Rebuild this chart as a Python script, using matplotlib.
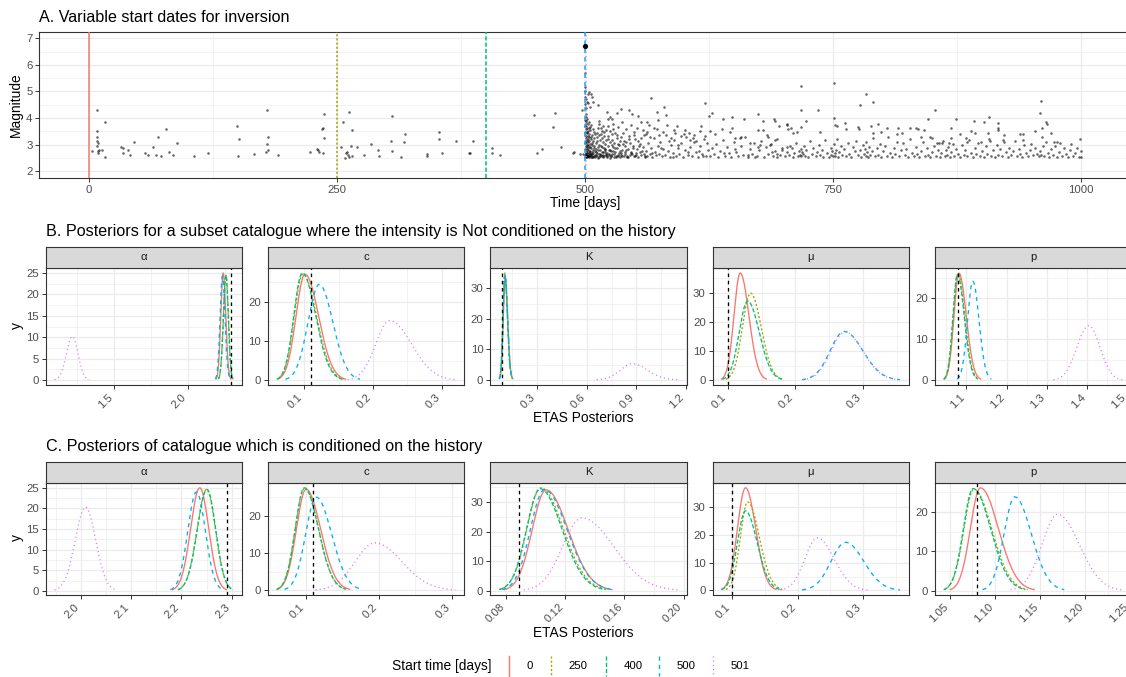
import numpy as np
import matplotlib.pyplot as plt

W, H = 1126, 677
plt.rcParams["font.family"] = ["Liberation Sans", "DejaVu Sans"]

# start times used for the inversions
start_days = [0, 250, 400, 500, 501]
start_names = ["0", "250", "400", "500", "501"]
start_colors = ["#F8766D", "#A3A500", "#00BF7D", "#00B0F6", "#E76BF3"]
start_dashes = [None, (1.5, 1.5), (3.0, 1.5), (3.0, 3.0), (0.75, 2.25)]

# synthetic catalogue (time [days], magnitude)
mainshock = (500.0, 6.7)
quakes_before = [
    (2.7, 2.75), (7.7, 4.30), (16.1, 3.86), (7.7, 3.52), (8.4, 3.29), (8.4, 3.13), (9.4, 3.04),
    (7.7, 2.94), (9.4, 2.75), (10.4, 2.79), (12.8, 2.79), (9.4, 2.67), (16.1, 2.52), (31.9, 2.89),
    (34.6, 2.85), (33.9, 2.69), (39.7, 2.79), (41.3, 2.60), (45.4, 3.09), (56.4, 2.69), (59.1, 2.60),
    (64.2, 2.92), (67.2, 2.59), (69.2, 3.27), (72.6, 2.55), (77.6, 3.57), (80.6, 2.72), (84.3, 2.62),
    (89.0, 3.04), (105.5, 2.55), (120.3, 2.68), (149.2, 3.70), (151.6, 3.19), (150.5, 2.55),
    (166.3, 2.64), (179.7, 4.29), (180.4, 3.27), (179.7, 3.03), (180.8, 2.78), (178.4, 2.70),
    (190.9, 2.60), (222.8, 2.70), (229.5, 2.84), (231.2, 2.79), (232.2, 2.70), (236.2, 2.68),
    (236.9, 4.15), (235.5, 3.62), (234.9, 3.60), (237.2, 3.23),
    (253.7, 2.89), (255.7, 3.83), (262.4, 4.21), (264.8, 3.55), (263.8, 2.94), (269.8, 2.90),
    (259.1, 2.67), (260.4, 2.70), (261.4, 2.60), (258.1, 2.50), (262.4, 2.54), (264.8, 2.57),
    (277.6, 2.59), (283.9, 3.01), (291.7, 2.78), (292.7, 2.57), (305.1, 4.07), (304.7, 3.13),
    (305.1, 2.77), (314.2, 2.52), (318.5, 3.41), (317.9, 3.11), (340.4, 2.65), (341.1, 2.57),
    (353.2, 3.49), (352.8, 3.22), (355.8, 2.68), (369.6, 3.14), (387.4, 3.14), (383.4, 2.68),
    (383.6, 2.67), (406.6, 2.88), (405.9, 2.69), (414.0, 2.60), (448.9, 4.12), (451.3, 2.67),
    (456.3, 2.82), (469.8, 4.17), (468.1, 3.66), (475.8, 2.90), (487.5, 2.67), (489.2, 2.72),
    (494.9, 2.64), (496.6, 4.29), (497.6, 2.63),
]
quakes_early_after = [
    (500.1, 5.68), (500.2, 5.18), (500.3, 4.80), (500.4, 4.52), (500.6, 4.71), (500.8, 4.38),
    (501.0, 4.15), (501.5, 4.05), (502.0, 3.98), (500.5, 5.02), (502.5, 4.62), (503.0, 4.91),
    (500.1, 3.92), (500.2, 2.61), (500.2, 3.35), (500.3, 2.84), (500.4, 3.71), (500.5, 2.53),
    (500.6, 3.12), (500.7, 2.95), (500.8, 3.58), (500.9, 2.72), (501.0, 3.24), (501.1, 2.56),
    (501.2, 3.81), (501.3, 2.88), (501.4, 3.05), (501.5, 2.67), (501.6, 3.46), (501.8, 2.59),
    (501.9, 3.18), (502.0, 2.79), (502.2, 3.63), (502.3, 2.52), (502.5, 2.97), (502.6, 3.31),
    (502.8, 2.64), (503.0, 3.09), (503.1, 2.55), (503.3, 3.52), (503.5, 2.83), (503.7, 2.69),
    (503.9, 3.27), (504.1, 2.58), (504.3, 2.91), (504.5, 3.41), (504.7, 2.62), (505.0, 3.02),
    (505.2, 2.74), (505.5, 3.66), (505.7, 2.53), (506.0, 2.86), (506.3, 3.21), (506.6, 2.57),
    (506.9, 2.99), (507.2, 3.37), (507.5, 2.66), (507.8, 2.81), (508.1, 3.13), (508.5, 2.54),
    (508.9, 2.93), (509.3, 3.48), (509.7, 2.61), (510.1, 2.77),
    (500.3, 3.05), (500.5, 3.48), (500.7, 2.66), (500.9, 3.87), (501.1, 3.31), (501.3, 2.54),
    (501.5, 3.69), (501.7, 2.91), (501.9, 2.58), (502.1, 3.42), (502.4, 2.73), (502.7, 3.77),
    (502.9, 2.56), (503.2, 3.19), (503.4, 2.99), (503.6, 3.61), (503.8, 2.52), (504.0, 3.84),
    (504.2, 2.77), (504.4, 3.14), (504.6, 2.68), (504.9, 3.55), (505.1, 2.59), (505.4, 2.89),
    (505.8, 3.29), (506.1, 2.63), (506.5, 3.73), (506.8, 2.71), (507.1, 2.53), (507.4, 3.06),
    (507.9, 3.58), (508.3, 2.69), (508.7, 3.24), (509.1, 2.56), (509.5, 2.85), (509.9, 3.39),
    (510.5, 2.54), (511.0, 3.05), (511.4, 2.71), (511.9, 3.29), (512.3, 2.58), (512.8, 2.89),
    (513.2, 3.62), (513.7, 2.66), (514.1, 2.97), (514.6, 2.52), (515.0, 3.18), (515.5, 2.79),
    (516.0, 3.41), (516.4, 2.61), (516.9, 2.92), (517.4, 2.55), (517.9, 3.08), (518.3, 2.73),
    (518.8, 3.33), (519.3, 2.57), (519.8, 2.84), (520.3, 3.02), (520.8, 2.63), (521.3, 3.55),
    (521.9, 2.69), (522.4, 2.53), (523.0, 2.95), (523.5, 3.22), (524.1, 2.60), (524.7, 2.81),
    (525.3, 3.11), (525.9, 2.56), (526.5, 2.76), (527.1, 3.38), (527.7, 2.64), (528.4, 2.91),
    (529.0, 2.52), (529.7, 3.06), (530.4, 2.71), (531.1, 2.58), (531.8, 3.26), (532.5, 2.86),
    (533.2, 2.62), (534.0, 2.99), (534.8, 2.54), (535.6, 3.15), (536.4, 2.69), (537.2, 2.78),
    (538.1, 3.45), (539.0, 2.57), (539.9, 2.94), (540.8, 2.63), (541.7, 3.08), (542.7, 2.53),
    (543.7, 2.82), (544.7, 3.31), (545.7, 2.60), (546.8, 2.73), (547.9, 2.96), (549.0, 2.55),
    (550.1, 3.19), (551.3, 2.67), (552.5, 2.84), (553.7, 2.52), (555.0, 3.02), (556.3, 2.62),
    (557.6, 2.77), (559.0, 3.36), (560.4, 2.58),
    (510.8, 2.83), (511.6, 3.44), (512.5, 2.68), (513.4, 2.51), (514.3, 3.76), (515.2, 2.64),
    (516.2, 2.95), (517.1, 3.51), (518.0, 2.59), (519.0, 2.87), (520.0, 2.72), (521.0, 3.16),
    (522.0, 2.56), (523.2, 3.68), (524.4, 2.78), (525.6, 2.51), (526.8, 2.99), (528.0, 3.58),
    (529.3, 2.66), (530.6, 2.88), (532.0, 3.37), (533.5, 2.55), (535.0, 2.74), (536.7, 2.61),
    (538.5, 3.02), (540.3, 2.71), (542.2, 2.57), (544.2, 3.22), (546.3, 2.69), (548.5, 2.87),
    (550.8, 2.56), (553.1, 3.12), (555.5, 2.71), (558.0, 2.91), (560.0, 2.53),
    (511.2, 2.61), (512.1, 3.12), (513.0, 2.79), (513.9, 3.35), (514.8, 2.57), (515.8, 3.63),
    (516.7, 2.73), (517.6, 3.24), (518.6, 2.52), (519.6, 3.47), (520.6, 2.81), (521.6, 2.59),
    (522.7, 3.32), (523.8, 2.66), (524.9, 3.52), (526.1, 2.58), (527.4, 3.18), (528.7, 2.75),
    (530.0, 3.43), (531.4, 2.53), (532.8, 3.01), (534.3, 2.67), (535.9, 3.29), (537.7, 2.56),
    (539.5, 3.14), (541.4, 2.81), (543.3, 2.52), (545.2, 3.05), (547.3, 2.64), (549.5, 3.35),
    (551.9, 2.59), (554.4, 2.93), (556.9, 3.24), (559.5, 2.66),
    (561.5, 2.76), (562.8, 2.57), (563.9, 3.05), (565.2, 2.64), (566.4, 2.88), (567.9, 2.53),
    (569.1, 3.24), (570.5, 2.71), (571.8, 2.59), (573.2, 2.94), (574.6, 2.66), (576.1, 3.11),
    (577.5, 2.55), (579.0, 2.82), (580.6, 2.61), (582.1, 3.35), (583.7, 2.74), (585.2, 2.52),
    (586.8, 2.97), (588.4, 2.68), (590.1, 3.17), (591.7, 2.57), (593.4, 2.85), (595.1, 2.63),
    (596.9, 3.04), (598.6, 2.54), (600.4, 2.79), (602.2, 3.28), (604.0, 2.61), (605.9, 2.89),
    (607.8, 2.56), (609.7, 3.09), (611.7, 2.70), (613.7, 2.53), (615.7, 2.93), (617.8, 2.65),
    (619.9, 3.21), (622.0, 2.58), (624.2, 2.81), (563.0, 3.46), (568.0, 2.69), (572.5, 3.58),
    (577.0, 2.86), (584.5, 3.14), (589.0, 2.52), (594.0, 2.99), (599.5, 3.41), (603.5, 2.72),
    (608.5, 3.26), (614.5, 2.77), (618.5, 2.55), (623.0, 3.05),
    (504.0, 4.99), (505.7, 4.90), (506.7, 4.80), (508.4, 4.61), (502.7, 4.55), (505.0, 4.42),
    (512.7, 4.49), (521.8, 4.24), (525.2, 4.02), (526.9, 3.98), (531.9, 4.17), (536.3, 4.32),
    (544.7, 4.30), (547.0, 4.15), (553.7, 4.07), (556.4, 3.86), (562.1, 3.86), (566.5, 4.74),
    (564.5, 3.73), (572.9, 4.24), (573.9, 3.92), (580.0, 4.40), (581.3, 4.11), (590.0, 3.55),
    (590.7, 3.42), (621.0, 4.58),
    (514.0, 3.88), (518.5, 3.71), (523.0, 3.95), (528.5, 3.79), (533.0, 3.66), (537.5, 3.84),
    (541.0, 3.57), (546.0, 3.72), (549.5, 3.49), (552.0, 3.63), (558.5, 3.55), (561.0, 3.41),
    (566.0, 3.28), (569.5, 3.61), (575.0, 3.36), (578.5, 3.48), (583.0, 3.72), (586.5, 3.25),
    (592.5, 3.68), (597.0, 3.31), (601.0, 3.54), (604.5, 3.45), (611.5, 3.12), (617.0, 3.69),
    (620.5, 3.33), (605.8, 3.17), (610.2, 3.36), (615.9, 3.51),
]
quakes_late_after = [
    (627.7, 4.20), (625.3, 4.07), (639.4, 3.98), (648.5, 4.02), (660.3, 3.95), (674.7, 4.15),
    (679.7, 3.90), (690.8, 3.98), (691.5, 3.90), (695.5, 3.70), (703.3, 3.73), (710.0, 3.42),
    (705.0, 3.57), (626.0, 3.52), (637.7, 3.57), (647.8, 3.61), (651.2, 3.23), (656.2, 3.23),
    (674.7, 3.55), (679.7, 3.55), (684.8, 3.29), (666.3, 3.04), (674.0, 2.92), (686.5, 2.98),
    (691.5, 3.17), (703.3, 2.92), (708.3, 2.85), (698.2, 2.79), (693.2, 2.66),
    (626.5, 2.55), (628.0, 2.88), (630.3, 2.64), (632.1, 3.02), (634.5, 2.52), (636.2, 2.76),
    (638.8, 3.18), (641.0, 2.58), (643.4, 2.91), (645.1, 2.67), (647.5, 2.53), (649.9, 3.09),
    (652.0, 2.72), (654.6, 2.56), (656.8, 2.95), (659.1, 2.61), (661.4, 3.27), (663.9, 2.54),
    (666.0, 2.83), (668.5, 2.66), (670.7, 3.04), (672.9, 2.57), (675.3, 2.78), (677.6, 3.15),
    (680.0, 2.52), (682.4, 2.89), (684.6, 2.63), (687.0, 3.01), (689.5, 2.55), (691.8, 2.74),
    (694.0, 3.22), (696.5, 2.60), (698.9, 2.86), (631.0, 3.38), (640.0, 2.69), (646.5, 3.46),
    (651.0, 2.83), (657.5, 3.30), (664.5, 2.62), (671.5, 2.52), (676.5, 2.97), (683.0, 3.36),
    (688.5, 2.70), (693.5, 2.53),
    (717.7, 5.20), (751.0, 5.30), (783.2, 4.89), (777.2, 4.49), (789.9, 4.61), (717.7, 4.30),
    (735.2, 4.30), (750.9, 4.01), (722.8, 3.88), (852.8, 4.30), (846.1, 3.96), (873.6, 3.98),
    (959.7, 4.64), (958.7, 4.20), (964.8, 3.83), (966.1, 3.76), (960.4, 3.64), (969.5, 3.44),
    (907.2, 4.05), (902.5, 3.83), (892.4, 3.89), (916.6, 3.82), (916.6, 3.64), (915.9, 3.54),
    (703.9, 3.76), (707.6, 3.61), (713.3, 3.49), (717.7, 3.65), (736.9, 3.47), (752.0, 3.74),
    (753.7, 3.70), (762.1, 3.80), (763.1, 3.57), (775.5, 3.65), (776.5, 3.59), (788.3, 3.70),
    (795.0, 3.76), (790.0, 3.42), (798.4, 3.49), (804.8, 3.61), (815.9, 3.61), (814.9, 3.38),
    (819.6, 3.42), (828.0, 3.64), (833.7, 3.61), (835.7, 3.60), (841.4, 3.54), (839.1, 3.29),
    (869.4, 3.61), (869.4, 3.23), (878.5, 3.38), (889.5, 3.51), (893.6, 3.42), (906.0, 3.42),
    (922.8, 3.36), (938.9, 3.38), (941.6, 3.38), (953.4, 3.52), (941.3, 3.16), (960.4, 3.29),
    (973.2, 3.10), (975.5, 3.10), (999.1, 3.19), (884.5, 3.23), (885.1, 3.10), (899.6, 3.10),
    (908.0, 3.13), (921.4, 3.16), (849.5, 3.24), (854.6, 3.06), (856.9, 3.06), (859.6, 3.04),
    (867.3, 3.06),
    (701.5, 2.56), (703.9, 2.72), (705.2, 2.61), (707.0, 2.93), (709.3, 2.53), (711.1, 2.68),
    (713.0, 3.05), (714.5, 2.58), (715.8, 2.76), (716.6, 2.62), (717.3, 2.84), (718.0, 2.55),
    (718.8, 2.71), (719.6, 2.66), (720.5, 2.93), (721.4, 2.58), (722.6, 2.79), (724.9, 2.52),
    (726.5, 3.12), (728.4, 2.64), (730.2, 2.85), (732.7, 2.57), (734.0, 2.73), (735.9, 2.97),
    (737.2, 2.61), (738.5, 2.79), (740.1, 2.54), (742.4, 3.18), (744.0, 2.67), (746.3, 2.52),
    (747.5, 2.88), (748.4, 2.62), (749.3, 2.74), (750.1, 2.55), (750.8, 3.02), (751.6, 2.68),
    (752.3, 2.58), (753.1, 2.81), (753.9, 3.22), (754.8, 2.53), (756.4, 2.71), (758.1, 2.95),
    (759.5, 2.60), (761.2, 2.83), (762.9, 2.56), (764.7, 3.07), (766.0, 2.66), (768.2, 2.52),
    (770.0, 2.91), (771.8, 2.74), (773.5, 3.14), (775.1, 2.59), (776.9, 2.78), (778.6, 2.53),
    (780.1, 2.97), (781.0, 2.65), (781.9, 2.84), (782.8, 2.57), (783.7, 3.09), (784.6, 2.70),
    (785.5, 2.53), (786.4, 2.92), (787.5, 2.62), (789.1, 2.77), (790.6, 3.24), (792.2, 2.55),
    (793.9, 2.88), (795.4, 2.61), (797.1, 3.01), (798.8, 2.53), (800.6, 2.74), (802.3, 2.95),
    (804.1, 2.57), (805.8, 3.28), (807.6, 2.68), (809.5, 2.52), (811.2, 2.86), (813.0, 2.63),
    (814.9, 3.11), (816.6, 2.55), (818.5, 2.79), (820.3, 3.04), (822.1, 2.60), (824.0, 2.83),
    (825.8, 2.53), (827.7, 3.19), (829.5, 2.67), (831.3, 2.55), (833.2, 2.90), (835.0, 2.64),
    (836.9, 2.52), (838.8, 2.77), (840.6, 3.08), (842.5, 2.58), (844.4, 2.85), (846.2, 2.62),
    (847.3, 3.27), (848.1, 2.54), (849.9, 2.73), (851.8, 2.96), (853.7, 2.57), (855.5, 2.81),
    (857.4, 2.53), (859.3, 2.69), (861.1, 3.13), (862.5, 2.56), (863.8, 2.78), (865.0, 2.60),
    (866.3, 2.92), (867.6, 2.54), (869.0, 2.71), (870.8, 3.02), (872.4, 2.58), (874.3, 2.83),
    (876.1, 2.65), (877.9, 2.52), (879.8, 2.98), (881.6, 2.61), (883.5, 2.79), (885.3, 2.55),
    (887.2, 3.17), (889.0, 2.68), (890.9, 2.53), (892.7, 2.87), (894.6, 2.63), (896.4, 3.06),
    (898.3, 2.57), (900.1, 2.76), (902.0, 2.54), (903.8, 2.93), (905.7, 2.66), (907.5, 3.21),
    (909.4, 2.58), (911.2, 2.81), (913.1, 2.52), (914.9, 2.97), (916.8, 2.62), (918.6, 2.84),
    (920.5, 2.55), (922.3, 3.09), (924.2, 2.70), (926.0, 2.53), (927.9, 2.88), (929.7, 2.61),
    (931.6, 2.75), (933.4, 3.14), (935.3, 2.57), (937.1, 2.83), (939.0, 2.64), (940.8, 2.52),
    (942.7, 2.99), (944.5, 2.68), (946.4, 2.56), (948.2, 2.79), (950.1, 3.03), (951.9, 2.59),
    (953.8, 2.86), (955.6, 2.63), (957.2, 2.55), (958.8, 2.74), (960.1, 2.62), (961.5, 2.93),
    (963.0, 2.57), (964.6, 3.11), (966.3, 2.69), (968.1, 2.53), (970.0, 2.82), (971.8, 2.60),
    (973.7, 2.95), (975.5, 2.54), (977.4, 2.72), (979.2, 3.06), (981.1, 2.58), (982.9, 2.85),
    (984.8, 2.63), (986.6, 2.52), (988.5, 2.78), (990.3, 3.01), (992.2, 2.56), (994.0, 2.69),
    (995.9, 2.87), (997.7, 2.53), (999.5, 2.53), (1000.0, 2.75),
]

params = ["α", "c", "K", "μ", "p"]
true_values = [2.29, 0.11, 0.089, 0.1, 1.08]

# posterior marginals, one row per start time: (mode, peak density, lower end, upper end)
post_b_alpha = [(2.238, 25.0, 2.19, 2.29), (2.256, 24.5, 2.205, 2.305), (2.257, 24.5, 2.205, 2.305),
                (2.233, 24.3, 2.185, 2.285), (1.215, 10.2, 1.095, 1.33)]
post_b_c = [(0.101, 27.0, 0.0615, 0.16), (0.098, 27.0, 0.06, 0.157), (0.097, 27.3, 0.06, 0.155),
            (0.1217, 24.4, 0.0725, 0.181), (0.2243, 15.2, 0.163, 0.32)]
post_b_k = [(0.106, 33.5, 0.072, 0.152), (0.104, 35.0, 0.07, 0.15), (0.104, 34.3, 0.07, 0.15),
            (0.105, 34.4, 0.071, 0.152), (0.875, 5.3, 0.66, 1.15)]
post_b_mu = [(0.118, 36.7, 0.0903, 0.1567), (0.1335, 29.8, 0.0967, 0.1807), (0.129, 27.1, 0.0916, 0.1807),
             (0.2723, 16.7, 0.2097, 0.355), (0.2735, 16.5, 0.211, 0.353)]
post_b_p = [(1.0815, 26.1, 1.0447, 1.1353), (1.079, 26.0, 1.0447, 1.130), (1.0778, 25.8, 1.044, 1.128),
            (1.116, 24.1, 1.0768, 1.162), (1.4035, 13.3, 1.316, 1.4867)]

post_c_alpha = [(2.2366, 25.0, 2.182, 2.29), (2.25, 24.6, 2.193, 2.303), (2.251, 24.6, 2.193, 2.303),
                (2.23, 24.0, 2.178, 2.283), (2.0086, 20.3, 1.947, 2.07)]
post_c_c = [(0.1, 27.0, 0.0602, 0.16), (0.098, 27.3, 0.06, 0.155), (0.0977, 27.4, 0.06, 0.155),
            (0.114, 24.9, 0.0704, 0.177), (0.1947, 12.7, 0.113, 0.305)]
post_c_k = [(0.107, 34.1, 0.0788, 0.1516), (0.1035, 34.8, 0.0753, 0.1487), (0.103, 34.5, 0.0753, 0.1472),
            (0.1059, 34.2, 0.0773, 0.1516), (0.1312, 24.6, 0.0919, 0.196)]
post_c_mu = [(0.12, 36.9, 0.0833, 0.1666), (0.1233, 31.8, 0.09, 0.1767), (0.12, 28.6, 0.0833, 0.1733),
             (0.2733, 17.3, 0.2066, 0.3566), (0.23, 18.9, 0.1733, 0.3065)]
post_c_p = [(1.0839, 26.1, 1.0505, 1.1434), (1.0767, 25.7, 1.0433, 1.1362), (1.0758, 25.9, 1.0433, 1.1338),
            (1.122, 23.8, 1.0862, 1.1768), (1.1696, 19.4, 1.1172, 1.2411)]

xticks_b = [[1.5, 2.0], [0.1, 0.2, 0.3], [0.3, 0.6, 0.9, 1.2], [0.1, 0.2, 0.3], [1.1, 1.2, 1.3, 1.4, 1.5]]
xticks_c = [[2.0, 2.1, 2.2, 2.3], [0.1, 0.2, 0.3], [0.08, 0.12, 0.16, 0.20], [0.1, 0.2, 0.3],
            [1.05, 1.10, 1.15, 1.20, 1.25]]
xdigits_b = [1, 1, 1, 1, 1]
xdigits_c = [1, 1, 2, 1, 2]
ystep = [5, 10, 10, 10, 10]

GRID = "#EBEBEB"
DARK = "#333333"
TICK_TXT = "#4D4D4D"
TICK_SIZE = 8.2
AXIS_SIZE = 9.9
TITLE_SIZE = 11.6

fig = plt.figure(figsize=(W / 100, H / 100), dpi=100)


def px_axes(x0, x1, y0, y1):
    return fig.add_axes([x0 / W, 1 - y1 / H, (x1 - x0) / W, (y1 - y0) / H])


def px_text(x, y, s, **kw):
    return fig.text(x / W, 1 - y / H, s, **kw)


def line_style(dash, lw):
    if dash is None:
        return "-"
    return (0, tuple(d / lw for d in dash))


def minor_breaks(major, lo, hi):
    step = major[1] - major[0]
    ext = [major[0] - step] + list(major) + [major[-1] + step]
    mids = [(a + b) / 2 for a, b in zip(ext[:-1], ext[1:])]
    return [m for m in mids if lo <= m <= hi]


def style_panel(ax, xmaj, ymaj):
    x0, x1 = ax.get_xlim()
    y0, y1 = ax.get_ylim()
    ax.set_xticks(xmaj)
    ax.set_yticks(ymaj)
    ax.set_xticks(minor_breaks(xmaj, x0, x1), minor=True)
    ax.set_yticks(minor_breaks(ymaj, y0, y1), minor=True)
    ax.set_xlim(x0, x1)
    ax.set_ylim(y0, y1)
    ax.grid(which="major", color=GRID, lw=0.9)
    ax.grid(which="minor", color=GRID, lw=0.45)
    ax.set_axisbelow(True)
    ax.tick_params(which="minor", length=0)
    ax.tick_params(which="major", length=3, width=0.7, color=DARK,
                   labelsize=TICK_SIZE, labelcolor=TICK_TXT, pad=2)
    for sp in ax.spines.values():
        sp.set_color(DARK)
        sp.set_linewidth(0.8)


def posterior_curve(mode, peak, lo, hi):
    x = np.linspace(lo, hi, 240)
    s = np.where(x < mode, (mode - lo) / 3.0, (hi - mode) / 3.0)
    return x, peak * np.exp(-0.5 * ((x - mode) / s) ** 2)


# ---- A: catalogue with start dates ----
axA = px_axes(39.4, 1130.6, 31.7, 177.7)
for group in (quakes_before, quakes_early_after, quakes_late_after):
    t, m = zip(*group)
    axA.scatter(t, m, s=3.4, color="black", alpha=0.6, linewidths=0, zorder=2)
for day, col, dash in zip(start_days, start_colors, start_dashes):
    axA.axvline(day, color=col, lw=1.1, linestyle=line_style(dash, 1.1), zorder=3)
axA.scatter([mainshock[0]], [mainshock[1]], s=14, color="black", linewidths=0, zorder=4)
axA.set_xlim(-50, 1050)
axA.set_ylim(1.75, 7.25)
style_panel(axA, [0, 250, 500, 750, 1000], [2, 3, 4, 5, 6, 7])
axA.set_xticklabels(["0", "250", "500", "750", "1000"])
px_text(39.4, 22.5, "A. Variable start dates for inversion", size=TITLE_SIZE, va="baseline")
px_text(585, 203, "Time [days]", size=AXIS_SIZE, ha="center", va="center")
px_text(16, 105, "Magnitude", size=AXIS_SIZE, ha="center", va="center", rotation=90)

# ---- B and C: posterior facets ----
facet_left, facet_pitch, facet_width = 45.7, 222.3, 196.3


def draw_row(curves, xticks, digits, strip_top, panel_top, panel_bottom):
    for i, name in enumerate(params):
        x0 = facet_left + i * facet_pitch
        ax = px_axes(x0, x0 + facet_width, panel_top, panel_bottom)
        xs, ys = [true_values[i]], []
        for (mode, peak, lo, hi), col, dash in zip(curves[i], start_colors, start_dashes):
            x, y = posterior_curve(mode, peak, lo, hi)
            ax.plot(x, y, color=col, lw=0.95, linestyle=line_style(dash, 0.95))
            xs += [x.min(), x.max()]
            ys += [y.min(), y.max()]
        ax.axvline(true_values[i], color="black", lw=0.95, linestyle=line_style((2.6, 2.6), 0.95))
        xr = max(xs) - min(xs)
        yr = max(ys) - min(ys)
        ax.set_xlim(min(xs) - 0.05 * xr, max(xs) + 0.05 * xr)
        ax.set_ylim(min(ys) - 0.05 * yr, max(ys) + 0.05 * yr)
        ymaj = list(np.arange(0, max(ys) + 0.01, ystep[i]))
        style_panel(ax, xticks[i], ymaj)
        ax.set_yticklabels([f"{v:g}" for v in ymaj])
        ax.set_xticklabels([f"{v:.{digits[i]}f}" for v in xticks[i]],
                           rotation=45, ha="right", va="top")

        strip = px_axes(x0, x0 + facet_width, strip_top, panel_top)
        strip.set_facecolor("#D9D9D9")
        strip.set_xticks([])
        strip.set_yticks([])
        for sp in strip.spines.values():
            sp.set_color(DARK)
            sp.set_linewidth(0.8)
        strip.text(0.5, 0.5, name, transform=strip.transAxes, ha="center", va="center",
                   size=TICK_SIZE, color="#1A1A1A")


draw_row([post_b_alpha, post_b_c, post_b_k, post_b_mu, post_b_p], xticks_b, xdigits_b,
         246.7, 267.7, 385.0)
px_text(45.7, 235.8, "B. Posteriors for a subset catalogue where the intensity is Not conditioned on the history",
        size=TITLE_SIZE, va="baseline")
px_text(583, 418.3, "ETAS Posteriors", size=AXIS_SIZE, ha="center", va="center")
px_text(17, 326, "y", size=AXIS_SIZE, ha="center", va="center", rotation=90)

draw_row([post_c_alpha, post_c_c, post_c_k, post_c_mu, post_c_p], xticks_c, xdigits_c,
         461.7, 482.7, 595.0)
px_text(45.7, 450.5, "C. Posteriors of catalogue which is conditioned on the history",
        size=TITLE_SIZE, va="baseline")
px_text(583, 633.3, "ETAS Posteriors", size=AXIS_SIZE, ha="center", va="center")
px_text(17, 538, "y", size=AXIS_SIZE, ha="center", va="center", rotation=90)

# ---- legend ----
key_x = [509.3, 550.7, 606.0, 659.3, 713.3]
px_text(392.3, 665.7, "Start time [days]", size=AXIS_SIZE, va="center")
for kx, name, col, dash in zip(key_x, start_names, start_colors, start_dashes):
    fig.add_artist(plt.Line2D([kx / W, kx / W], [1 - 655.5 / H, 1 - 676.0 / H], color=col, lw=1.0,
                              linestyle=line_style(dash, 1.0)))
    px_text(kx + 17.5, 665.7, name, size=TICK_SIZE, va="center")

fig.savefig("out.png", dpi=100)
